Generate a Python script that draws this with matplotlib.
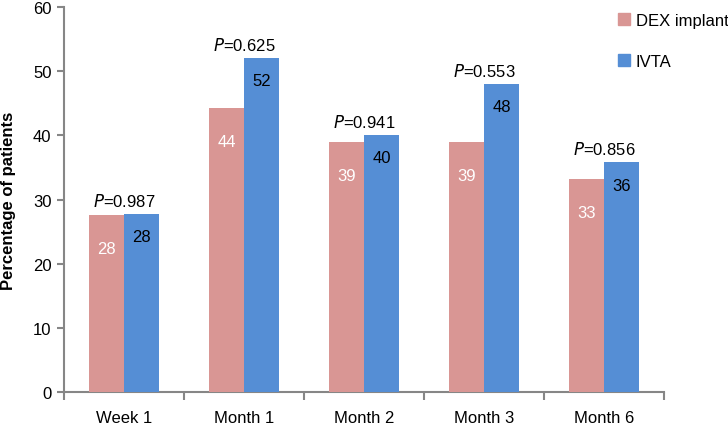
import numpy as np
import matplotlib
matplotlib.use("Agg")
import matplotlib.pyplot as plt
from matplotlib.patches import Patch

plt.rcParams['font.family'] = ['Liberation Sans', 'DejaVu Sans']

# ── data ──────────────────────────────
categories = ["Week 1", "Month 1", "Month 2", "Month 3", "Month 6"]
dex = [27.6, 44.3, 38.9, 38.9, 33.2]
ivta = [27.8, 52.1, 40.1, 48.0, 35.8]
dex_labels = ["28", "44", "39", "39", "33"]
ivta_labels = ["28", "52", "40", "48", "36"]
p_values = ["0.987", "0.625", "0.941", "0.553", "0.856"]

dex_color = "#D99694"
ivta_color = "#558ED5"
axis_color = "#868686"

# ── plot ──────────────────────────────
fig = plt.figure(figsize=(7.28, 4.31), dpi=100)
ax = fig.add_axes([64 / 728, 1 - 393 / 431, 600 / 728, 385 / 431])

x = np.arange(len(categories))
w = 35 / 120
ax.bar(x - w / 2, dex, width=w, color=dex_color, zorder=3)
ax.bar(x + w / 2, ivta, width=w, color=ivta_color, zorder=3)

for i in range(len(categories)):
    ax.annotate(dex_labels[i], (x[i] - w / 2, dex[i]), xytext=(0, -24),
                textcoords="offset points", ha="center", va="center",
                color="white", fontsize=12, zorder=4)
    ax.annotate(ivta_labels[i], (x[i] + w / 2, ivta[i]), xytext=(0, -16.5),
                textcoords="offset points", ha="center", va="center",
                color="black", fontsize=12, zorder=4)
    top = max(dex[i], ivta[i])
    ax.annotate("$\\mathit{P}$=" + p_values[i], (x[i], top), xytext=(0, 3.5),
                textcoords="offset points", ha="center", va="bottom",
                fontsize=12, zorder=4)

ax.set_xlim(-0.5, len(categories) - 0.5)
ax.set_ylim(0, 60)
ax.set_yticks(range(0, 61, 10))

ax.set_xticks(x)
ax.set_xticklabels(categories, fontsize=12)
ax.set_xticks(np.arange(-0.5, len(categories)), minor=True)
ax.tick_params(axis="x", which="major", length=0, pad=13)
ax.tick_params(axis="x", which="minor", length=6, width=1.5, color=axis_color)
ax.tick_params(axis="y", length=5, width=1.5, color=axis_color, labelsize=12, pad=4)

for s in ["top", "right"]:
    ax.spines[s].set_visible(False)
for s in ["left", "bottom"]:
    ax.spines[s].set_color(axis_color)
    ax.spines[s].set_linewidth(1.5)

ax.set_ylabel("Percentage of patients", fontsize=12, fontweight="bold", labelpad=12)

handles = [Patch(color=dex_color), Patch(color=ivta_color)]
fig.legend(handles, ["DEX implant", "IVTA"], loc="upper left",
           bbox_to_anchor=(618 / 728, 1 - 14 / 431), frameon=False,
           fontsize=12, handlelength=0.7, handleheight=0.7,
           handletextpad=0.35, labelspacing=1.55, borderpad=0, borderaxespad=0)

plt.savefig("out.png", dpi=100)
